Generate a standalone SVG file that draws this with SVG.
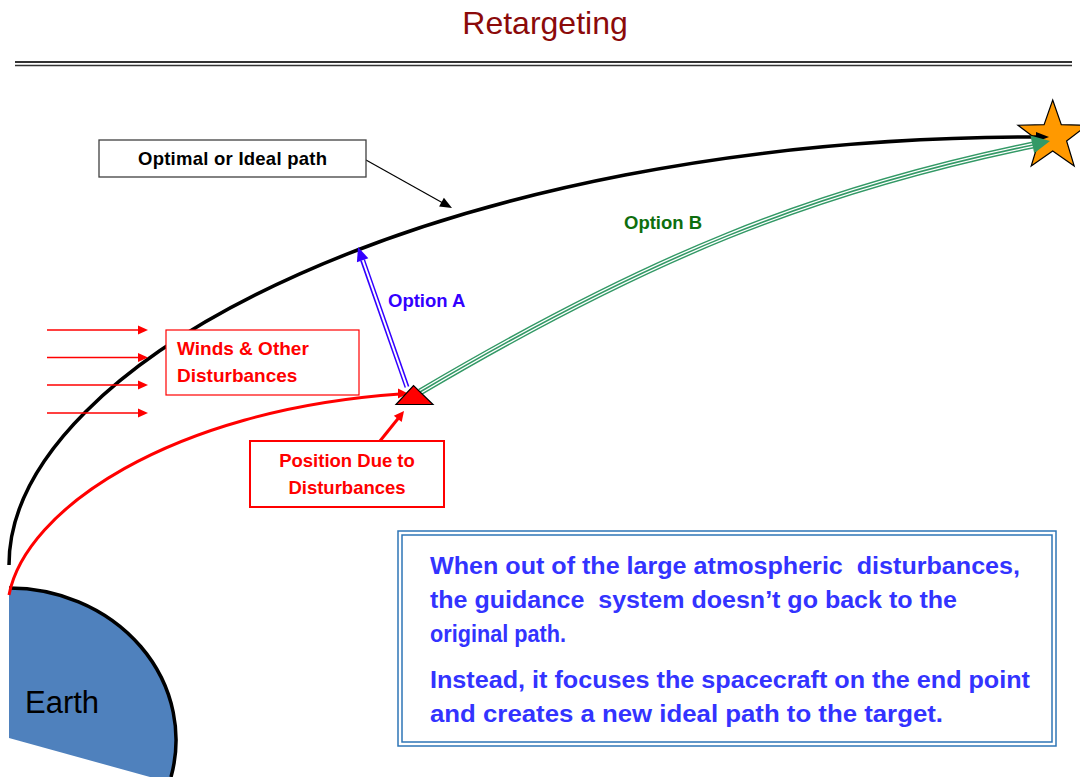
<svg xmlns="http://www.w3.org/2000/svg" width="1080" height="777" viewBox="0 0 1080 777">
  <style>
    text { font-family: "Liberation Sans", Arial, sans-serif; }
    .b { font-weight: bold; }
    .red { fill: #FF0000; }
    .msg { font-size: 23px; font-weight: bold; fill: #3333FF; white-space: pre; }
    .lbl { font-size: 18.5px; font-weight: bold; }
  </style>
  <rect width="1080" height="777" fill="#FFFFFF"/>

  <g id="title">
    <text x="545" y="34" font-size="32" fill="#8B0A0A" text-anchor="middle">Retargeting</text>
    <line x1="15" y1="62" x2="1072" y2="62" stroke="#333333" stroke-width="2"/>
    <line x1="15" y1="65.5" x2="1072" y2="65.5" stroke="#333333" stroke-width="1.5"/>
  </g>

  <g id="earth">
    <path d="M9,588 A167,152 0 0 1 171,777 L150,777 L9,738 Z" fill="#4F81BD"/>
    <path d="M9,588 A167,152 0 0 1 171,777" fill="none" stroke="#000000" stroke-width="3.5"/>
    <text x="25" y="713" font-size="31" fill="#000000">Earth</text>
  </g>

  <g id="target-star">
    <polygon points="1052.7,100 1061.3,124.7 1087.4,125.2 1066.6,141 1074.2,166 1052.7,151.1 1031.2,166 1038.8,141 1018,125.2 1044.1,124.7" fill="#FF9900" stroke="#000000" stroke-width="1.2"/>
  </g>

  <g id="connectors">
    <path d="M9,565 C9,360 440,137 1038,137" fill="none" stroke="#000000" stroke-width="3.5"/>
    <polygon points="1036,132 1049,137 1036,142" fill="#000000"/>
    <path d="M9,595 C25,510 170,410 400,394" fill="none" stroke="#FF0000" stroke-width="3"/>
    <polygon points="398,388.5 408,393.5 398,398.5" fill="#FF0000"/>
    <path d="M420,392 C645,259 810,191 1033,145" fill="none" stroke="#339966" stroke-width="7"/>
    <path d="M420,392 C645,259 810,191 1033,145" fill="none" stroke="#FFFFFF" stroke-width="4.2"/>
    <path d="M420,392 C645,259 810,191 1033,145" fill="none" stroke="#339966" stroke-width="1.6"/>
    <polygon points="1050,141 1030.4,135.5 1034.2,153.2" fill="#339966"/>
    <line x1="407" y1="387" x2="362.6" y2="260.2" stroke="#3300FF" stroke-width="5"/>
    <line x1="409" y1="393" x2="362" y2="258" stroke="#FFFFFF" stroke-width="2"/>
    <polygon points="358,247 368.3,258.2 356.9,262.2" fill="#3300FF"/>
    <line x1="366" y1="160" x2="442" y2="202.5" stroke="#000000" stroke-width="1.2"/>
    <polygon points="452,208 439.1,206.6 443.9,197.8" fill="#000000"/>
    <g stroke="#FF0000" stroke-width="1.3">
      <line x1="47" y1="330" x2="139" y2="330"/>
      <line x1="47" y1="357.5" x2="139" y2="357.5"/>
      <line x1="47" y1="385" x2="139" y2="385"/>
      <line x1="47" y1="413" x2="139" y2="413"/>
    </g>
    <g fill="#FF0000">
      <polygon points="138,325.5 148,330 138,334.5"/>
      <polygon points="138,353 148,357.5 138,362"/>
      <polygon points="138,380.5 148,385 138,389.5"/>
      <polygon points="138,408.5 148,413 138,417.5"/>
    </g>
    <line x1="380" y1="441" x2="398.5" y2="418" stroke="#FF0000" stroke-width="3"/>
    <polygon points="404,411 401.7,421.9 393.8,415.7" fill="#FF0000"/>
  </g>

  <g id="spacecraft">
    <polygon points="396,404.5 433,404.5 413.5,385.5" fill="#FF0000" stroke="#000000" stroke-width="1.2"/>
  </g>

  <g id="optimal-label">
    <rect x="99" y="140" width="267" height="37" fill="#FFFFFF" stroke="#404040" stroke-width="1.3"/>
    <text x="232.5" y="164.5" class="lbl" fill="#000000" text-anchor="middle" textLength="189">Optimal or Ideal path</text>
  </g>

  <g id="option-a-label">
    <text x="388" y="307" class="lbl" fill="#3300FF">Option A</text>
  </g>

  <g id="option-b-label">
    <text x="624" y="229" class="lbl" fill="#0E6E0E">Option B</text>
  </g>

  <g id="winds-label">
    <rect x="166" y="330" width="193" height="65" fill="#FFFFFF" stroke="#FF0000" stroke-width="1.2"/>
    <text x="177" y="355" font-size="19" class="b red">Winds &amp; Other</text>
    <text x="177" y="382" font-size="19" class="b red">Disturbances</text>
  </g>

  <g id="position-label">
    <rect x="250" y="441" width="194" height="66" fill="#FFFFFF" stroke="#FF0000" stroke-width="2"/>
    <text x="347" y="467" font-size="18.5" class="b red" text-anchor="middle">Position Due to</text>
    <text x="347" y="494" font-size="18.5" class="b red" text-anchor="middle">Disturbances</text>
  </g>

  <g id="message-box">
    <rect x="398" y="531" width="658" height="215" fill="#FFFFFF" stroke="#2E75B6" stroke-width="1.5"/>
    <rect x="402" y="535" width="650" height="207" fill="none" stroke="#2E75B6" stroke-width="1.5"/>
    <text x="430" y="574" class="msg" textLength="590" lengthAdjust="spacingAndGlyphs">When out of the large atmospheric  disturbances,</text>
    <text x="430" y="608" class="msg" textLength="527" lengthAdjust="spacingAndGlyphs">the guidance  system doesn’t go back to the</text>
    <text x="430" y="642" class="msg" textLength="136" lengthAdjust="spacingAndGlyphs">original path.</text>
    <text x="430" y="688" class="msg" textLength="600" lengthAdjust="spacingAndGlyphs">Instead, it focuses the spacecraft on the end point</text>
    <text x="430" y="722" class="msg" textLength="513" lengthAdjust="spacingAndGlyphs">and creates a new ideal path to the target.</text>
  </g>
</svg>
